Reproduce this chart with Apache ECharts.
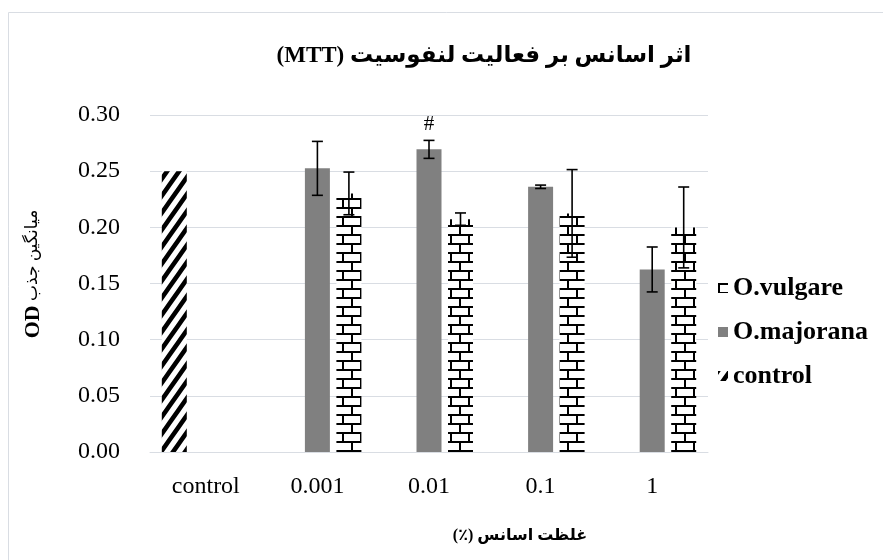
<!DOCTYPE html>
<html>
<head>
<meta charset="utf-8">
<script src="https://cdn.jsdelivr.net/npm/echarts@6/dist/echarts.min.js"></script>
<style>html,body{margin:0;padding:0;background:#fff}#c{width:883px;height:560px}</style>
</head>
<body>
<div id="c"></div>
<script>
const categories = ['control', '0.001', '0.01', '0.1', '1'];
const controlValues = [0.250, null, null, null, null];
const majoranaValues = [null, 0.2525, 0.2694, 0.2361, 0.1625];
const majoranaErrors = [null, 0.024, 0.008, 0.0015, 0.020];
const vulgareValues = [null, 0.2302, 0.2073, 0.2124, 0.1999];
const vulgareErrors = [null, 0.019, 0.0055, 0.039, 0.036];
const majoranaMarks = ['', '', '#', '', ''];
const yTicks = [0, 0.05, 0.10, 0.15, 0.20, 0.25, 0.30];

const FONT = "'Liberation Serif', 'DejaVu Sans', serif";

function brickPattern() {
  const c = document.createElement('canvas');
  c.width = 18; c.height = 18;
  const g = c.getContext('2d');
  g.fillStyle = '#fff'; g.fillRect(0, 0, 18, 18);
  g.strokeStyle = '#000'; g.lineWidth = 2;
  g.beginPath();
  g.moveTo(0, 1); g.lineTo(18, 1);
  g.moveTo(0, 10); g.lineTo(18, 10);
  g.moveTo(1, 1); g.lineTo(1, 10);
  g.moveTo(10, 10); g.lineTo(10, 19);
  g.moveTo(10, -1); g.lineTo(10, 1);
  g.stroke();
  return c;
}
function stripePattern() {
  const w = 12, h = 17;
  const c = document.createElement('canvas');
  c.width = w; c.height = h;
  const g = c.getContext('2d');
  g.fillStyle = '#fff'; g.fillRect(0, 0, w, h);
  g.strokeStyle = '#000'; g.lineWidth = 4.5; g.lineCap = 'butt';
  g.beginPath();
  for (let k = -1; k <= 1; k++) {
    g.moveTo(k * w - w * 0.5, h * 1.5); g.lineTo(k * w + w * 1.5, -h * 0.5);
  }
  g.stroke();
  return c;
}

const BW = 25, GAPR = 0.26;
const errData = [];
majoranaValues.forEach((v, i) => { if (v != null) errData.push([i, 1, v, majoranaErrors[i], majoranaMarks[i]]); });
vulgareValues.forEach((v, i) => { if (v != null) errData.push([i, 2, v, vulgareErrors[i], '']); });

const chart = echarts.init(document.getElementById('c'));
chart.setOption({
  animation: false,
  graphic: [
    { type: 'rect', shape: { x: 8.5, y: 12.5, width: 900, height: 600 }, style: { fill: 'none', stroke: '#d9dde3', lineWidth: 1 }, z: -10 },
    { type: 'text', x: 520, y: 536, style: { text: '(٪) غلظت اسانس', font: "bold 16px " + FONT, fill: '#000', align: 'center', verticalAlign: 'middle' } },
    { type: 'text', x: 33, y: 274, rotation: Math.PI / 2,
      style: { text: '{b|OD}{n| میانگین جذب}', align: 'center', verticalAlign: 'middle',
        rich: { b: { fontFamily: FONT, fontWeight: 'bold', fontSize: 22, fill: '#000' },
                n: { fontFamily: FONT, fontSize: 17, fill: '#000' } } } }
  ],
  title: {
    text: '(MTT) اثر اسانس بر فعالیت لنفوسیت',
    left: 479, top: 40, textAlign: 'center',
    textStyle: { fontFamily: FONT, fontWeight: 'bold', fontSize: 23, color: '#000' }
  },
  legend: {
    orient: 'vertical', left: 713, top: 270, itemGap: 18,
    itemWidth: 10, itemHeight: 10, icon: 'rect',
    data: ['O.vulgare', 'O.majorana', 'control'],
    textStyle: { fontFamily: FONT, fontWeight: 'bold', fontSize: 26, color: '#000', padding: [0, 0, 0, 0] }
  },
  grid: { left: 150, right: 175, top: 115, bottom: 108, containLabel: false },
  xAxis: {
    type: 'category', data: categories,
    axisLine: { lineStyle: { color: '#d9dde3', width: 1 } },
    axisTick: { show: false },
    axisLabel: { fontFamily: FONT, fontSize: 24, color: '#000', margin: 23 }
  },
  yAxis: {
    type: 'value', min: 0, max: 0.3, interval: 0.05,
    axisLine: { show: false }, axisTick: { show: false },
    splitLine: { lineStyle: { color: '#d9dde3', width: 1 } },
    axisLabel: { fontFamily: FONT, fontSize: 24, color: '#000', margin: 30,
      formatter: v => yTicks.find(t => Math.abs(t - v) < 1e-9) != null ? v.toFixed(2) : '' }
  },
  series: [
    { name: 'control', type: 'bar', data: controlValues, barWidth: BW, barGap: (GAPR * 100) + '%',
      itemStyle: { color: { image: stripePattern(), repeat: 'repeat' } } },
    { name: 'O.majorana', type: 'bar', data: majoranaValues, barWidth: BW, barGap: (GAPR * 100) + '%',
      itemStyle: { color: '#808080' } },
    { name: 'O.vulgare', type: 'bar', data: vulgareValues, barWidth: BW, barGap: (GAPR * 100) + '%',
      itemStyle: { color: { image: brickPattern(), repeat: 'repeat' } } },
    { type: 'custom', name: 'err', data: errData, z: 10, silent: true,
      encode: { x: 0, y: 2 },
      renderItem: function (params, api) {
        const cat = api.value(0), slot = api.value(1), v = api.value(2), e = api.value(3);
        const mark = errData[params.dataIndex][4];
        const off = (slot - 1) * BW * (1 + GAPR);
        const top = api.coord([cat, v + e]);
        const bot = api.coord([cat, v - e]);
        const x = top[0] + off;
        const cw = 5.5;
        const st = { stroke: '#000', lineWidth: 1.6 };
        const children = [
          { type: 'line', shape: { x1: x, y1: top[1], x2: x, y2: bot[1] }, style: st },
          { type: 'line', shape: { x1: x - cw, y1: top[1], x2: x + cw, y2: top[1] }, style: st },
          { type: 'line', shape: { x1: x - cw, y1: bot[1], x2: x + cw, y2: bot[1] }, style: st }
        ];
        if (mark) children.push({ type: 'text', x: x, y: top[1] - 5,
          style: { text: mark, font: '21px ' + FONT, fill: '#000', align: 'center', verticalAlign: 'bottom' } });
        return { type: 'group', children: children };
      }
    }
  ]
});
</script>
</body>
</html>
